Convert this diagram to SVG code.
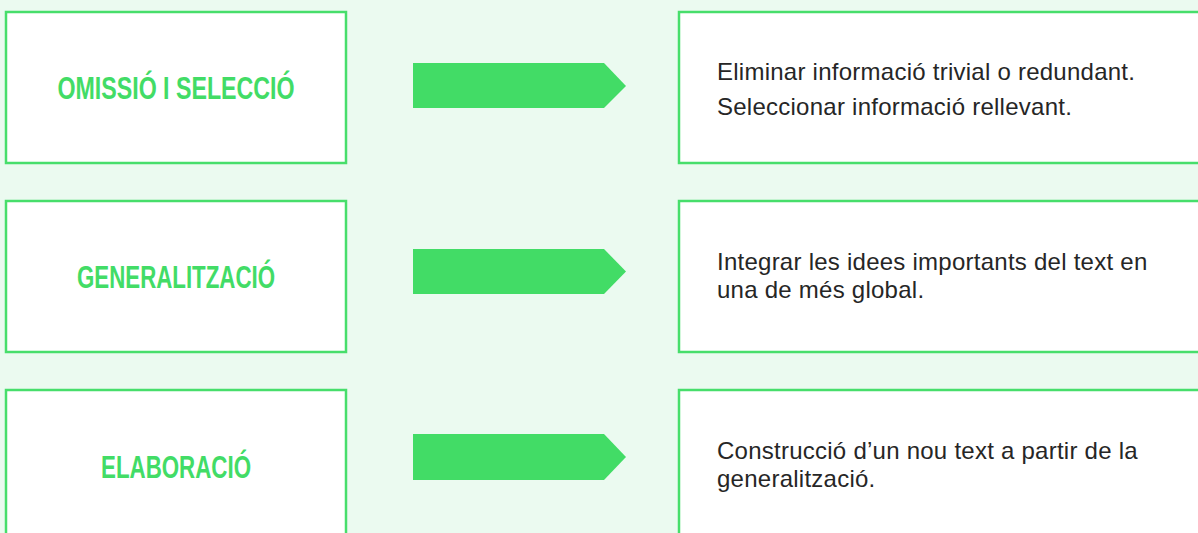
<svg xmlns="http://www.w3.org/2000/svg" width="1198" height="533" viewBox="0 0 1198 533">
<style>
.box{fill:#ffffff;stroke:#47DE6B;stroke-width:2.5}
.arrow{fill:#42DC66}
.lbl{font-family:"Liberation Sans",Arial,sans-serif;font-weight:bold;font-size:32px;fill:#42DC66;text-anchor:middle}
.desc{font-family:"Liberation Sans",Arial,sans-serif;font-size:24px;letter-spacing:0.25px;fill:#262626}
</style>
<rect width="1198" height="533" fill="#EBFAF0"/>
<g id="node-omissio">
<rect class="box" x="6" y="12" width="340" height="151"/>
<text class="lbl" x="176" y="99" textLength="237" lengthAdjust="spacingAndGlyphs">OMISSIÓ I SELECCIÓ</text>
</g>
<g id="node-omissio-desc">
<rect class="box" x="679" y="12" width="530" height="151"/>
<text class="desc" x="717" y="80">Eliminar informació trivial o redundant.</text>
<text class="desc" x="717" y="115">Seleccionar informació rellevant.</text>
</g>
<g id="node-generalitzacio">
<rect class="box" x="6" y="201" width="340" height="151"/>
<text class="lbl" x="176" y="288" textLength="198" lengthAdjust="spacingAndGlyphs">GENERALITZACIÓ</text>
</g>
<g id="node-generalitzacio-desc">
<rect class="box" x="679" y="201" width="530" height="151"/>
<text class="desc" x="717" y="270">Integrar les idees importants del text en</text>
<text class="desc" x="717" y="298">una de més global.</text>
</g>
<g id="node-elaboracio">
<rect class="box" x="6" y="390" width="340" height="160"/>
<text class="lbl" x="176" y="478" textLength="150" lengthAdjust="spacingAndGlyphs">ELABORACIÓ</text>
</g>
<g id="node-elaboracio-desc">
<rect class="box" x="679" y="390" width="530" height="160"/>
<text class="desc" x="717" y="459">Construcció d’un nou text a partir de la</text>
<text class="desc" x="717" y="487">generalització.</text>
</g>
<g id="connectors">
<polygon class="arrow" points="413,63 604,63 626,86 604,108 413,108"/>
<polygon class="arrow" points="413,249 604,249 626,271.5 604,294 413,294"/>
<polygon class="arrow" points="413,434 604,434 626,457 604,480 413,480"/>
</g>
</svg>
